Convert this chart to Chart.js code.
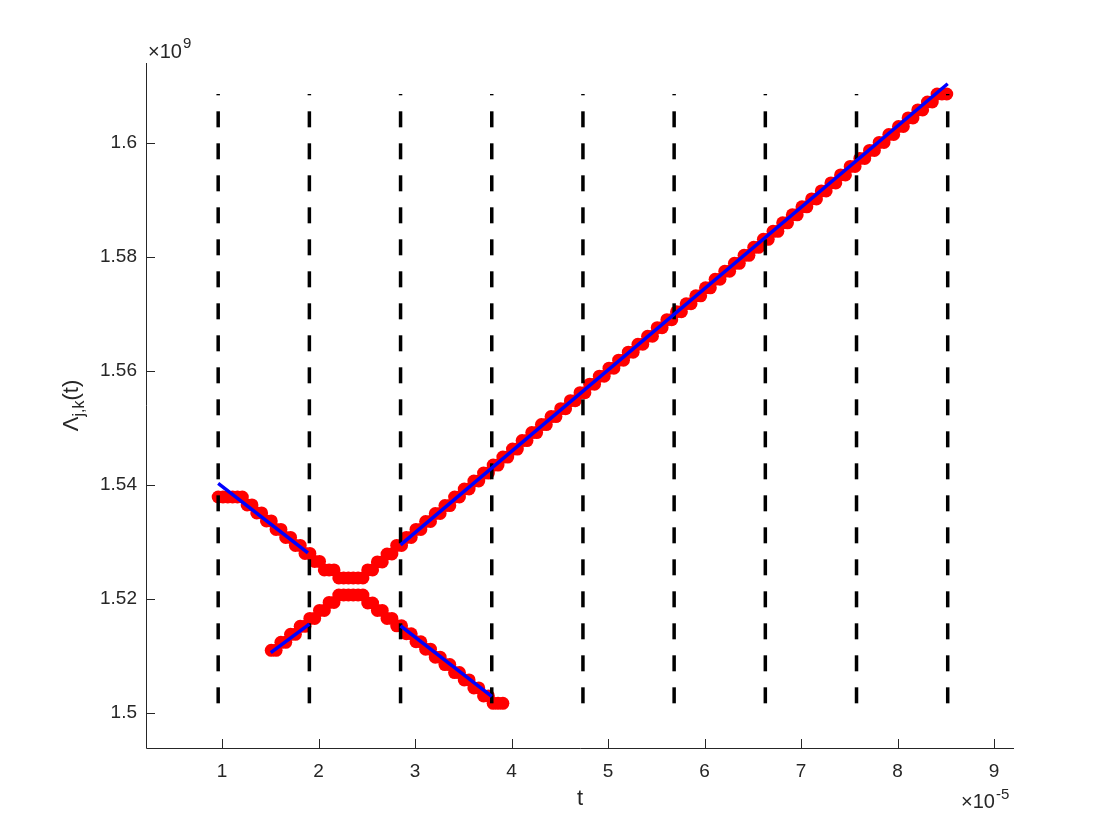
<!DOCTYPE html>
<html>
<head>
<meta charset="utf-8">
<script src="https://cdn.jsdelivr.net/npm/chart.js@4.4.0/dist/chart.umd.min.js"></script>
<style>
  html, body { margin: 0; padding: 0; background: #fff; }
  canvas { display: block; }
</style>
</head>
<body>
<canvas id="lambdaChart" width="1120" height="840"></canvas>
<script>
// t in units of 1e-5, Lambda in units of 1e9
const tUpper = [
  0.96, 1.01, 1.06, 1.11, 1.16, 1.21, 1.26, 1.31, 1.36, 1.41,
  1.46, 1.51, 1.56, 1.61, 1.66, 1.71, 1.76, 1.81, 1.86, 1.91,
  1.96, 2.01, 2.06, 2.11, 2.16, 2.21, 2.26, 2.31, 2.36, 2.41,
  2.46, 2.51, 2.56, 2.61, 2.66, 2.71, 2.76, 2.81, 2.86, 2.91,
  2.96, 3.01, 3.06, 3.11, 3.16, 3.21, 3.26, 3.31, 3.36, 3.41,
  3.46, 3.51, 3.56, 3.61, 3.66, 3.71, 3.76, 3.81, 3.86, 3.91,
  3.96, 4.01, 4.06, 4.11, 4.16, 4.21, 4.26, 4.31, 4.36, 4.41,
  4.46, 4.51, 4.56, 4.61, 4.66, 4.71, 4.76, 4.81, 4.86, 4.91,
  4.96, 5.01, 5.06, 5.11, 5.16, 5.21, 5.26, 5.31, 5.36, 5.41,
  5.46, 5.51, 5.56, 5.61, 5.66, 5.71, 5.76, 5.81, 5.86, 5.91,
  5.96, 6.01, 6.06, 6.11, 6.16, 6.21, 6.26, 6.31, 6.36, 6.41,
  6.46, 6.51, 6.56, 6.61, 6.66, 6.71, 6.76, 6.81, 6.86, 6.91,
  6.96, 7.01, 7.06, 7.11, 7.16, 7.21, 7.26, 7.31, 7.36, 7.41,
  7.46, 7.51, 7.56, 7.61, 7.66, 7.71, 7.76, 7.81, 7.86, 7.91,
  7.96, 8.01, 8.06, 8.11, 8.16, 8.21, 8.26, 8.31, 8.36, 8.41,
  8.46, 8.51
];
const lambdaUpper = [
  1.5379, 1.5379, 1.5379, 1.5379, 1.5379, 1.5379, 1.5365, 1.5365, 1.5351, 1.5351,
  1.5337, 1.5337, 1.5322, 1.5322, 1.5308, 1.5308, 1.5294, 1.5294, 1.5280, 1.5280,
  1.5266, 1.5266, 1.5251, 1.5251, 1.5251, 1.5237, 1.5237, 1.5237, 1.5237, 1.5237,
  1.5237, 1.5251, 1.5251, 1.5265, 1.5265, 1.5279, 1.5279, 1.5294, 1.5294, 1.5308,
  1.5308, 1.5322, 1.5322, 1.5336, 1.5336, 1.5350, 1.5350, 1.5364, 1.5364, 1.5379,
  1.5379, 1.5393, 1.5393, 1.5407, 1.5407, 1.5421, 1.5421, 1.5435, 1.5435, 1.5449,
  1.5449, 1.5463, 1.5463, 1.5478, 1.5478, 1.5492, 1.5492, 1.5506, 1.5506, 1.5520,
  1.5520, 1.5534, 1.5534, 1.5548, 1.5548, 1.5562, 1.5562, 1.5577, 1.5577, 1.5591,
  1.5591, 1.5605, 1.5605, 1.5619, 1.5619, 1.5633, 1.5633, 1.5647, 1.5647, 1.5661,
  1.5661, 1.5676, 1.5676, 1.5690, 1.5690, 1.5704, 1.5704, 1.5718, 1.5718, 1.5732,
  1.5732, 1.5746, 1.5746, 1.5761, 1.5761, 1.5775, 1.5775, 1.5789, 1.5789, 1.5803,
  1.5803, 1.5817, 1.5817, 1.5831, 1.5831, 1.5845, 1.5845, 1.5860, 1.5860, 1.5874,
  1.5874, 1.5888, 1.5888, 1.5902, 1.5902, 1.5916, 1.5916, 1.5930, 1.5930, 1.5944,
  1.5944, 1.5959, 1.5959, 1.5973, 1.5973, 1.5987, 1.5987, 1.6001, 1.6001, 1.6015,
  1.6015, 1.6029, 1.6029, 1.6044, 1.6044, 1.6058, 1.6058, 1.6072, 1.6072, 1.6086,
  1.6086, 1.6086
];
const tLower = [
  1.51, 1.56, 1.61, 1.66, 1.71, 1.76, 1.81, 1.86, 1.91,
  1.96, 2.01, 2.06, 2.11, 2.16, 2.21, 2.26, 2.31, 2.36, 2.41,
  2.46, 2.51, 2.56, 2.61, 2.66, 2.71, 2.76, 2.81, 2.86, 2.91,
  2.96, 3.01, 3.06, 3.11, 3.16, 3.21, 3.26, 3.31, 3.36, 3.41,
  3.46, 3.51, 3.56, 3.61, 3.66, 3.71, 3.76, 3.81, 3.86, 3.91
];
const lambdaLower = [
  1.5110, 1.5110, 1.5124, 1.5124, 1.5138, 1.5138, 1.5152, 1.5152, 1.5166,
  1.5166, 1.5180, 1.5180, 1.5194, 1.5194, 1.5207, 1.5207, 1.5207, 1.5207, 1.5207,
  1.5207, 1.5193, 1.5193, 1.5180, 1.5180, 1.5166, 1.5166, 1.5153, 1.5153, 1.5139,
  1.5139, 1.5125, 1.5125, 1.5112, 1.5112, 1.5098, 1.5098, 1.5085, 1.5085, 1.5071,
  1.5071, 1.5058, 1.5058, 1.5044, 1.5044, 1.5030, 1.5030, 1.5017, 1.5017, 1.5017
];
// vertical dashed markers and the line fits
const gridT = [0.96, 1.905, 2.85, 3.795, 4.74, 5.685, 6.63, 7.575, 8.52];
const gridLambda = [1.5017, 1.6086];
const fitT = [[0.96, 1.89], [1.505, 1.905], [2.85, 8.52], [2.85, 3.795]];
const fitLambda = [[1.5403, 1.5281], [1.5106, 1.5156], [1.5295, 1.6104], [1.5153, 1.5029]];

const xTicks = [1, 2, 3, 4, 5, 6, 7, 8, 9];
const yTicks = [1.5, 1.52, 1.54, 1.56, 1.58, 1.6];
const yTickLabels = ['1.5', '1.52', '1.54', '1.56', '1.58', '1.6'];

const FONT = '"Liberation Sans", Arial, Helvetica, sans-serif';
const AXIS = '#262626';

const datasets = [];
fitT.forEach((seg, i) => {
    datasets.push({
        data: seg.map((t, j) => ({ x: t, y: fitLambda[i][j] })),
        showLine: true,
        borderColor: '#0000ff',
        borderWidth: 3.5,
        pointRadius: 0,
        order: 0,
    });
});
gridT.forEach(t => {
    datasets.push({
        data: gridLambda.map(v => ({ x: t, y: v })),
        showLine: true,
        borderColor: '#000000',
        borderWidth: 3.5,
        borderDash: [16, 16],
        borderCapStyle: 'butt',
        pointRadius: 0,
        order: 1,
    });
});
datasets.push({
    data: tUpper.map((t, i) => ({ x: t, y: lambdaUpper[i] })),
    backgroundColor: '#ff0000',
    borderWidth: 0,
    pointRadius: 6.5,
    order: 2,
});
datasets.push({
    data: tLower.map((t, i) => ({ x: t, y: lambdaLower[i] })),
    backgroundColor: '#ff0000',
    borderWidth: 0,
    pointRadius: 6.5,
    order: 2,
});

// MATLAB-like axes: inward ticks, exponent labels, axis labels
const matlabAxes = {
    id: 'matlabAxes',
    afterDraw(chart) {
        const { ctx, chartArea: a, scales: { x, y } } = chart;
        ctx.save();
        ctx.strokeStyle = AXIS;
        ctx.lineWidth = 1;
        ctx.beginPath();
        ctx.moveTo(a.left + 0.5, a.top);
        ctx.lineTo(a.left + 0.5, a.bottom + 0.5);
        ctx.lineTo(a.right, a.bottom + 0.5);
        xTicks.forEach(v => {
            const px = Math.round(x.getPixelForValue(v)) + 0.5;
            ctx.moveTo(px, a.bottom);
            ctx.lineTo(px, a.bottom - 9);
        });
        yTicks.forEach(v => {
            const py = Math.round(y.getPixelForValue(v)) + 0.5;
            ctx.moveTo(a.left, py);
            ctx.lineTo(a.left + 9, py);
        });
        ctx.stroke();

        ctx.fillStyle = AXIS;
        ctx.textAlign = 'left';
        ctx.textBaseline = 'alphabetic';
        // x10^9 above the y axis
        ctx.font = '20px ' + FONT;
        ctx.fillText('\u00d710', a.left + 2, a.top - 5);
        let w = ctx.measureText('\u00d710').width;
        ctx.font = '15px ' + FONT;
        ctx.fillText('9', a.left + 3 + w, a.top - 15);
        // x10^-5 under the x axis
        ctx.font = '20px ' + FONT;
        ctx.fillText('\u00d710', 961, 808);
        w = ctx.measureText('\u00d710').width;
        ctx.font = '15px ' + FONT;
        ctx.fillText('-5', 962 + w, 799);

        // x label
        ctx.font = '22px ' + FONT;
        ctx.textAlign = 'center';
        ctx.fillText('t', (a.left + a.right) / 2, 805);

        // y label  Λ_{j,k}(t)
        ctx.translate(78, (a.top + a.bottom) / 2);
        ctx.rotate(-Math.PI / 2);
        ctx.textAlign = 'left';
        ctx.font = '22px ' + FONT;
        const w1 = ctx.measureText('\u039b').width;
        const w3 = ctx.measureText('(t)').width;
        ctx.font = '16px ' + FONT;
        const w2 = ctx.measureText('j,k').width;
        let sx = -(w1 + w2 + w3) / 2;
        ctx.font = '22px ' + FONT;
        ctx.fillText('\u039b', sx, 0);
        ctx.font = '16px ' + FONT;
        ctx.fillText('j,k', sx + w1, 6);
        ctx.font = '22px ' + FONT;
        ctx.fillText('(t)', sx + w1 + w2, 0);
        ctx.restore();
    }
};

new Chart(document.getElementById('lambdaChart'), {
    type: 'scatter',
    data: { datasets: datasets },
    options: {
        responsive: false,
        animation: false,
        events: [],
        layout: { padding: { top: 63, right: 106, left: 0, bottom: 0 } },
        plugins: {
            legend: { display: false },
            tooltip: { enabled: false },
        },
        scales: {
            x: {
                type: 'linear',
                min: 0.212,
                max: 9.207,
                grid: { display: false },
                border: { display: false },
                afterBuildTicks: s => { s.ticks = xTicks.map(v => ({ value: v })); },
                afterFit: s => { s.height = 92; },
                ticks: {
                    autoSkip: false,
                    maxRotation: 0,
                    padding: 4,
                    color: AXIS,
                    font: { family: FONT, size: 19 },
                    callback: v => String(v),
                },
            },
            y: {
                type: 'linear',
                min: 1.49386,
                max: 1.61404,
                grid: { display: false },
                border: { display: false },
                afterBuildTicks: s => { s.ticks = yTicks.map(v => ({ value: v })); },
                afterFit: s => { s.width = 146; },
                ticks: {
                    autoSkip: false,
                    padding: 1,
                    color: AXIS,
                    font: { family: FONT, size: 19 },
                    callback: (v, i) => yTickLabels[i],
                },
            },
        },
    },
    plugins: [matlabAxes],
});
</script>
</body>
</html>
